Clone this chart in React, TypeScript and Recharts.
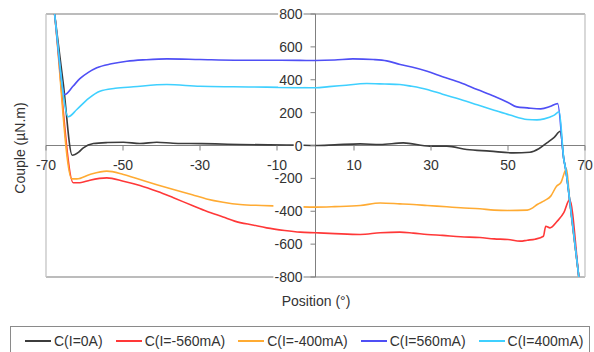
import React from 'react'
import { LineChart, Line, XAxis, YAxis, CartesianGrid, ReferenceLine, ReferenceDot, Legend } from 'recharts'

const FONT = '"Liberation Sans", Arial, sans-serif'
const TEXT = '#333333'
const AXIS = '#808080'

const xTicks = [-70, -50, -30, -10, 10, 30, 50, 70]
const yTicks = [-800, -600, -400, -200, 0, 200, 400, 600, 800]

const seriesNames = ['C(I=0A)', 'C(I=-560mA)', 'C(I=-400mA)', 'C(I=560mA)', 'C(I=400mA)']
const seriesColors = ['#3c3c3c', '#ff3838', '#ffab33', '#4f4ff5', '#3fd0ff']

// C(I=0A)
const pos0A = [-69, -67.9, -65.5, -63.2, -61.5, -60.3, -57.7, -54, -49.9, -45.6, -41.2, -37, -32.6, -26, -19.6, -12, -5, 0, 5, 11.6, 16.8, 22.8, 29.7, 34.1, 39.3, 45.3, 51.4, 55.7, 58, 60.1, 62, 63.6, 64.5, 65, 66, 68.4, 69]
const val0A = [1040, 827, 375, -59, -40, -14, 12, 18, 20, 12, 20, 14, 12, 10, 6, 4, 2, 0, 4, 10, 6, 16, -4, -4, -24, -34, -45, -41, -20, 16, 50, 87, -85, -146, -329, -800, -920]

// C(I=-560mA)
const posM560 = [-69, -67.9, -62.9, -61.2, -58.6, -54.2, -49.9, -45.6, -41, -36.9, -32, -28.3, -24, -21, -16, -12.7, -8, -4, 0, 5, 11.6, 16.8, 21.9, 25.4, 29, 33, 37.7, 42.7, 46.4, 50, 53.2, 55, 57, 59.2, 59.8, 60.9, 62.8, 64.5, 66, 68.4, 69]
const valM560 = [1040, 827, -227, -227, -211, -197, -217, -243, -280, -318, -365, -400, -435, -460, -485, -501, -517, -527, -531, -536, -541, -531, -527, -533, -541, -547, -555, -560, -568, -572, -582, -576, -570, -552, -491, -501, -460, -409, -329, -800, -920]

// C(I=-400mA)
const posM400 = [-69, -67.9, -63.3, -62, -58.6, -54.2, -49.9, -45.6, -41, -36.9, -32, -28.3, -24, -19.6, -14, -8.4, -4, 0, 5, 11.6, 16.8, 21.9, 25.4, 29, 34.1, 37.7, 42.7, 46.4, 50, 55, 56.5, 57.6, 59.5, 61.1, 62.6, 63.7, 65.2, 66, 68.4, 69]
const valM400 = [1040, 827, -203, -203, -176, -156, -176, -207, -240, -268, -300, -325, -345, -359, -365, -369, -373, -375, -372, -365, -350, -355, -359, -365, -373, -379, -385, -393, -395, -393, -378, -359, -335, -308, -248, -227, -142, -329, -800, -920]

// C(I=560mA)
const pos560 = [-69, -67.9, -65.1, -63, -61.2, -59, -56.8, -53, -49, -44, -38.6, -30, -21, -12, -4, 0, 5, 9.7, 15, 18.5, 22, 25, 29, 33, 37.7, 42, 46.4, 50, 52.3, 55, 58.5, 61.1, 62.9, 64.5, 65, 66, 68.4, 69]
const val560 = [1040, 827, 310, 360, 407, 445, 473, 497, 513, 522, 527, 523, 519, 519, 518, 517, 520, 527, 523, 515, 493, 478, 452, 418, 381, 340, 300, 262, 235, 229, 223, 239, 255, -85, -146, -329, -800, -920]

// C(I=400mA)
const pos400 = [-69, -67.9, -64.2, -62, -59, -56, -52, -47.3, -38.6, -30, -21.4, -12.7, -5, 0, 3.5, 7.1, 13.3, 18, 21.9, 25, 29, 33, 37.7, 42, 46.4, 50.5, 55, 57.5, 59.4, 61.9, 63.3, 64.5, 65, 66, 68.4, 69]
const val400 = [1040, 827, 175, 219, 285, 330, 348, 357, 371, 360, 357, 355, 352, 351, 358, 365, 377, 374, 371, 360, 341, 312, 280, 248, 215, 185, 158, 156, 162, 183, 205, -85, -146, -329, -800, -920]

const zip = (p: number[], v: number[]) => p.map((x, i) => ({ x, y: v[i] }))

const seriesData = [
  zip(pos0A, val0A),
  zip(posM560, valM560),
  zip(posM400, valM400),
  zip(pos560, val560),
  zip(pos400, val400),
]

const labelStyle = { fontFamily: FONT, fontSize: 14, fill: TEXT }

const xTickShape = (v: number) => (p: any) => (
  <g>
    <line x1={p.cx} y1={p.cy} x2={p.cx} y2={p.cy + 5} stroke={AXIS} />
    <text x={p.cx} y={p.cy + 24} textAnchor="middle" {...labelStyle}>{v}</text>
  </g>
)

const yTickShape = (v: number) => (p: any) => {
  const s = String(v)
  const w = s.replace('-', '').length * 7.8 + (v < 0 ? 4.7 : 0)
  return (
    <g>
      <line x1={p.cx - 5} y1={p.cy} x2={p.cx} y2={p.cy} stroke={AXIS} />
      <rect x={p.cx - 13 - w - 1} y={p.cy - 7} width={w + 2} height={14} fill="#fff" />
      <text x={p.cx - 13} y={p.cy + 5} textAnchor="end" {...labelStyle}>{s}</text>
    </g>
  )
}

const renderLegend = () => (
  <div style={{ display: 'flex', alignItems: 'center', height: '100%', paddingLeft: 14, boxSizing: 'border-box', fontFamily: FONT, fontSize: 14, color: TEXT, whiteSpace: 'nowrap' }}>
    {seriesNames.map((n, i) => (
      <span key={n} style={{ display: 'flex', alignItems: 'center', marginRight: 13 }}>
        <span style={{ display: 'inline-block', width: 26, height: 2, background: seriesColors[i], marginRight: 3 }} />
        {n}
      </span>
    ))}
  </div>
)

export default function App() {
  return (
    <div style={{ position: 'absolute', left: 0, top: 0, width: 594, height: 352, background: '#fff', overflow: 'hidden' }}>
      <LineChart width={594} height={352} margin={{ top: 14, right: 9, bottom: 75, left: 46 }} style={{ fontFamily: FONT }}>
        <CartesianGrid vertical={false} stroke="#a6a6a6" strokeWidth={1.3} />
        <XAxis type="number" dataKey="x" domain={[-70, 70]} ticks={xTicks} allowDataOverflow height={0} tick={false} axisLine={false} tickLine={false} />
        <YAxis type="number" domain={[-800, 800]} ticks={yTicks} allowDataOverflow width={0} tick={false} axisLine={false} tickLine={false} />
        <ReferenceLine x={-70} stroke="#c4c4c4" strokeWidth={1.3} />
        <ReferenceLine x={70} stroke="#c4c4c4" strokeWidth={1.3} />
        <ReferenceLine x={0} stroke={AXIS} />
        <ReferenceLine y={0} stroke={AXIS} />
        {xTicks.map((t) => (
          <ReferenceDot key={'x' + t} x={t} y={0} r={0} ifOverflow="visible" shape={xTickShape(t)} />
        ))}
        {yTicks.map((t) => (
          <ReferenceDot key={'y' + t} x={0} y={t} r={0} ifOverflow="visible" shape={yTickShape(t)} />
        ))}
        {seriesData.map((d, i) => (
          <Line key={seriesNames[i]} data={d} dataKey="y" name={seriesNames[i]} type="monotone" stroke={seriesColors[i]} strokeWidth={1.6} dot={false} isAnimationActive={false} />
        ))}
        <Legend layout="horizontal" verticalAlign="middle" align="center" content={renderLegend}
          wrapperStyle={{ left: 10, top: 326, width: 580, height: 30, border: '1px solid #8a8a8a', boxSizing: 'border-box', background: '#fff' }} />
      </LineChart>
      <div style={{ position: 'absolute', left: 316, top: 301, transform: 'translate(-50%, -50%)', fontFamily: FONT, fontSize: 14, color: TEXT, whiteSpace: 'nowrap' }}>Position (°)</div>
      <div style={{ position: 'absolute', left: 20, top: 148, transform: 'translate(-50%, -50%) rotate(-90deg)', fontFamily: FONT, fontSize: 14, color: TEXT, whiteSpace: 'nowrap' }}>Couple (µN.m)</div>
    </div>
  )
}
